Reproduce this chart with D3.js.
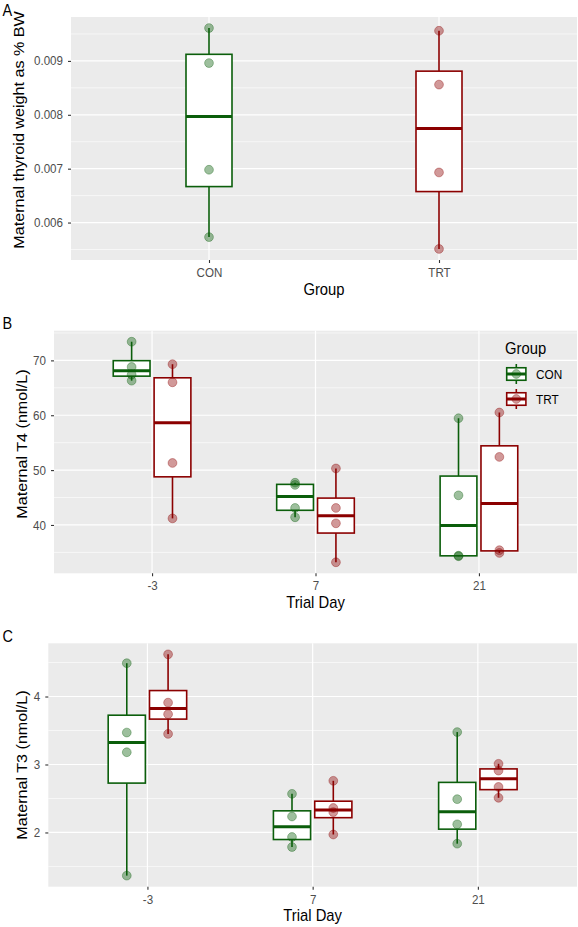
<!DOCTYPE html>
<html>
<head>
<meta charset="utf-8">
<script src="https://cdn.jsdelivr.net/npm/d3@7"></script>
<style>
  html, body { margin: 0; padding: 0; background: #ffffff; }
  svg { display: block; }
</style>
</head>
<body>
<div id="chart"></div>
<script>
// ---------- DATA ----------
const groups = ["CON", "TRT"];
const groupColors = ["#0b5e0b", "#8b0000"];

// Panel A: maternal thyroid weight (% BW), four animals per group
const thyroidCON = [0.00573, 0.00698, 0.00896, 0.00961];
const thyroidTRT = [0.00551, 0.00693, 0.00856, 0.00956];
const thyroidTicks = [0.006, 0.007, 0.008, 0.009];

// Panels B and C: trial days
const trialDays = ["-3", "7", "21"];

// Panel B: maternal T4 (nmol/L), per trial day
const t4CON = [[66.3, 67.4, 68.8, 73.4], [41.4, 43.1, 47.3, 47.7], [34.3, 34.4, 45.4, 59.45]];
const t4TRT = [[41.2, 51.3, 66.0, 69.3], [33.2, 40.3, 43.1, 50.3], [34.9, 35.4, 52.4, 60.5]];
const t4Ticks = [40, 50, 60, 70];

// Panel C: maternal T3 (nmol/L), per trial day
const t3CON = [[1.365, 3.18, 3.47, 4.49], [1.786, 1.933, 2.235, 2.568], [1.835, 2.12, 2.49, 3.477]];
const t3TRT = [[3.45, 3.74, 3.91, 4.62], [1.97, 2.30, 2.36, 2.76], [2.51, 2.67, 2.91, 3.01]];
const t3Ticks = [2, 3, 4];

// ---------- LAYOUT ----------
const W = 578, H = 927;
const SY = 1.09;               // the reference is slightly stretched vertically
const FONT = "'Liberation Sans', Arial, Helvetica, sans-serif";
const PANEL_BG = "#ebebeb";
const TICK_SIZE = 11.6;

const svg = d3.select("#chart").append("svg")
  .attr("width", W).attr("height", H)
  .attr("viewBox", `0 0 ${W} ${H}`);

function stretchedText(g, x, y, txt, opts) {
  return g.append("text")
    .attr("transform", `translate(${x},${y}) scale(1,${SY})` + (opts.rotate ? " rotate(-90)" : ""))
    .attr("font-family", FONT)
    .attr("font-size", opts.size)
    .attr("fill", opts.fill || "#000")
    .attr("text-anchor", opts.anchor || "start")
    .text(txt);
}

const panels = [
  {
    label: "A", labelY: 15.5,
    left: 71, right: 577, top: 17, bottom: 260,
    cats: groups,
    dodge: false,
    series: [
      { group: 0, values: [thyroidCON, null] },
      { group: 1, values: [null, thyroidTRT] }
    ],
    ticks: thyroidTicks, fmt: d3.format(".3f"),
    ytitle: "Maternal thyroid weight as % BW", ytitleX: 24, ytitleCenter: 130,
    xtitle: "Group", xtitleY: 294.5, xpad: 4.5
  },
  {
    label: "B", labelY: 328.5,
    left: 54, right: 577, top: 330.7, bottom: 573.3,
    cats: trialDays,
    dodge: true,
    series: [
      { group: 0, values: t4CON },
      { group: 1, values: t4TRT }
    ],
    ticks: t4Ticks, fmt: d3.format("d"),
    ytitle: "Maternal T4 (nmol/L)", ytitleX: 27, ytitleCenter: 444,
    xtitle: "Trial Day", xtitleY: 608, xpad: 3.8,
    legend: true
  },
  {
    label: "C", labelY: 641.7,
    left: 48.3, right: 577, top: 643.3, bottom: 886.7,
    cats: trialDays,
    dodge: true,
    series: [
      { group: 0, values: t3CON },
      { group: 1, values: t3TRT }
    ],
    ticks: t3Ticks, fmt: d3.format("d"),
    ytitle: "Maternal T3 (nmol/L)", ytitleX: 27, ytitleCenter: 765,
    xtitle: "Trial Day", xtitleY: 921, xpad: 4.2
  }
];

function boxStats(vals) {
  const s = vals.slice().sort(d3.ascending);
  const q1 = d3.quantile(s, 0.25), med = d3.quantile(s, 0.5), q3 = d3.quantile(s, 0.75);
  const iqr = q3 - q1;
  const lo = d3.min(s.filter(v => v >= q1 - 1.5 * iqr));
  const hi = d3.max(s.filter(v => v <= q3 + 1.5 * iqr));
  return { q1, med, q3, lo, hi };
}

panels.forEach(p => {
  const g = svg.append("g");

  const all = [];
  p.series.forEach(s => s.values.forEach(v => { if (v) all.push(...v); }));
  const mn = d3.min(all), mx = d3.max(all), r = mx - mn;
  const y = d3.scaleLinear().domain([mn - 0.05 * r, mx + 0.05 * r]).range([p.bottom, p.top]);
  const x = d3.scalePoint().domain(p.cats).range([p.left, p.right]).padding(0.6);
  const step = x.step();

  g.append("rect").attr("x", p.left).attr("y", p.top)
    .attr("width", p.right - p.left).attr("height", p.bottom - p.top)
    .attr("fill", PANEL_BG);

  const tstep = p.ticks[1] - p.ticks[0];
  const dom = y.domain();
  const minor = [p.ticks[0] - tstep / 2].concat(p.ticks.map(t => t + tstep / 2))
    .filter(v => v >= dom[0] && v <= dom[1]);
  g.selectAll(".minor").data(minor).enter().append("line")
    .attr("x1", p.left).attr("x2", p.right)
    .attr("y1", d => y(d)).attr("y2", d => y(d))
    .attr("stroke", "#fff").attr("stroke-width", 0.6);
  g.selectAll(".major").data(p.ticks).enter().append("line")
    .attr("x1", p.left).attr("x2", p.right)
    .attr("y1", d => y(d)).attr("y2", d => y(d))
    .attr("stroke", "#fff").attr("stroke-width", 1.2);
  g.selectAll(".vmajor").data(p.cats).enter().append("line")
    .attr("x1", d => x(d)).attr("x2", d => x(d))
    .attr("y1", p.top).attr("y2", p.bottom)
    .attr("stroke", "#fff").attr("stroke-width", 1.2);

  const bw = p.dodge ? 0.225 * step : 0.2 * step;
  p.series.forEach(s => {
    const col = groupColors[s.group];
    const off = p.dodge ? (s.group === 0 ? -0.125 : 0.125) * step : 0;
    s.values.forEach((vals, i) => {
      if (!vals) return;
      const cx = x(p.cats[i]) + off;
      const st = boxStats(vals);
      const bg = g.append("g");
      bg.append("line").attr("x1", cx).attr("x2", cx)
        .attr("y1", y(st.hi)).attr("y2", y(st.q3))
        .attr("stroke", col).attr("stroke-width", 1.6);
      bg.append("line").attr("x1", cx).attr("x2", cx)
        .attr("y1", y(st.q1)).attr("y2", y(st.lo))
        .attr("stroke", col).attr("stroke-width", 1.6);
      bg.append("rect").attr("x", cx - bw / 2).attr("y", y(st.q3))
        .attr("width", bw).attr("height", y(st.q1) - y(st.q3))
        .attr("fill", "#fff").attr("stroke", col).attr("stroke-width", 1.6);
      bg.append("line").attr("x1", cx - bw / 2).attr("x2", cx + bw / 2)
        .attr("y1", y(st.med)).attr("y2", y(st.med))
        .attr("stroke", col).attr("stroke-width", 3);
    });
  });
  p.series.forEach(s => {
    const col = groupColors[s.group];
    const off = p.dodge ? (s.group === 0 ? -0.125 : 0.125) * step : 0;
    s.values.forEach((vals, i) => {
      if (!vals) return;
      const cx = x(p.cats[i]) + off;
      g.selectAll(null).data(vals).enter().append("circle")
        .attr("cx", cx).attr("cy", d => y(d)).attr("r", 4.4)
        .attr("fill", col).attr("fill-opacity", 0.4)
        .attr("stroke", col).attr("stroke-opacity", 0.35).attr("stroke-width", 1);
    });
  });

  const ya = g.append("g").attr("transform", `translate(${p.left},0)`)
    .call(d3.axisLeft(y).tickValues(p.ticks).tickFormat(p.fmt).tickSize(3).tickPadding(5));
  ya.attr("font-size", null).attr("font-family", null);
  ya.select(".domain").remove();
  ya.selectAll("line").attr("stroke", "#333").attr("stroke-width", 1.1);
  ya.selectAll("text").attr("fill", "#4d4d4d")
    .style("font-size", TICK_SIZE + "px").style("font-family", FONT)
    .attr("transform", `scale(1,${SY})`);

  const xa = g.append("g").attr("transform", `translate(0,${p.bottom})`)
    .call(d3.axisBottom(x).tickSize(3).tickPadding(p.xpad));
  xa.attr("font-size", null).attr("font-family", null);
  xa.select(".domain").remove();
  xa.selectAll("line").attr("stroke", "#333").attr("stroke-width", 1.1);
  xa.selectAll("text").attr("fill", "#4d4d4d")
    .style("font-size", TICK_SIZE + "px").style("font-family", FONT)
    .attr("transform", `scale(1,${SY})`);

  stretchedText(g, (p.left + p.right) / 2, p.xtitleY, p.xtitle, { size: 14.8, anchor: "middle" });
  stretchedText(g, p.ytitleX, p.ytitleCenter, p.ytitle, { size: 14.8, anchor: "middle", rotate: true });
  stretchedText(g, 2.5, p.labelY, p.label, { size: 14.5 });

  if (p.legend) {
    const lg = g.append("g");
    stretchedText(lg, 505, 353.5, "Group", { size: 14.8 });
    const K = 24, KH = 25;
    groups.forEach((name, i) => {
      const col = groupColors[i];
      const kx = 504.3, ky = 361.5 + i * KH;
      const cx = kx + K / 2;
      lg.append("line").attr("x1", cx).attr("x2", cx)
        .attr("y1", ky + 0.1 * KH).attr("y2", ky + 0.9 * KH)
        .attr("stroke", col).attr("stroke-width", 1.6);
      lg.append("rect").attr("x", kx + 0.1 * K).attr("y", ky + 0.25 * KH)
        .attr("width", 0.8 * K).attr("height", 0.5 * KH)
        .attr("fill", "#fff").attr("stroke", col).attr("stroke-width", 1.6);
      lg.append("line").attr("x1", kx + 0.1 * K).attr("x2", kx + 0.9 * K)
        .attr("y1", ky + KH / 2).attr("y2", ky + KH / 2)
        .attr("stroke", col).attr("stroke-width", 3);
      lg.append("circle").attr("cx", cx).attr("cy", ky + KH / 2).attr("r", 4.4)
        .attr("fill", col).attr("fill-opacity", 0.4)
        .attr("stroke", col).attr("stroke-opacity", 0.35).attr("stroke-width", 1);
      stretchedText(lg, 536, ky + KH / 2 + 4.6, name, { size: 11.8 });
    });
  }
});
</script>
</body>
</html>
